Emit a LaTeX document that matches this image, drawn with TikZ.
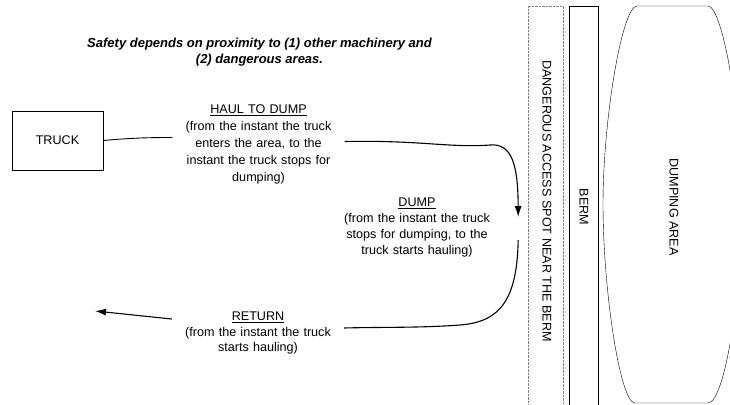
\documentclass[tikz,border=0pt]{standalone}
\usepackage{fontspec}
\setmainfont{Liberation Sans}
\usetikzlibrary{arrows.meta}

\tikzset{
  phase/.style={align=center, text width=152pt, inner xsep=10pt, inner ysep=0pt, font=\fontsize{12.6}{16.8}\selectfont},
  region/.style={rotate=-90, font=\fontsize{12.6}{14}\selectfont},
  flow/.style={line width=1.1pt, -{Latex[length=11pt,width=7pt]}}
}

\begin{document}
\begin{tikzpicture}[x=1pt,y=-1pt]
   \useasboundingbox (0,0) rectangle (730,404);
   \clip (0,0) rectangle (730,404);

   \node (title) at (259.5,52) [align=center, font=\fontsize{13}{16}\selectfont\bfseries\itshape]
     {Safety depends on proximity to (1) other machinery and\\(2) dangerous areas.};

   \node (truck) at (57.5,140.5) [draw, minimum width=91pt, minimum height=59pt, font=\fontsize{12.6}{14}\selectfont] {TRUCK};

   \node (haul) at (258.5,144.5) [phase]
     {\underline{HAUL TO DUMP}\\(from the instant the truck\\enters the area, to the\\instant the truck stops for\\dumping)};
   \node (dump) at (417,227.5) [phase, text width=202pt, inner xsep=0pt, font=\fontsize{12.6}{16}\selectfont]
     {\underline{DUMP}\\(from the instant the truck\\stops for dumping, to the\\truck starts hauling)};
   \node (return) at (258,333) [phase, font=\fontsize{12.6}{15.8}\selectfont]
     {\underline{RETURN}\\(from the instant the truck\\starts hauling)};
   \coordinate (out) at (95,311);

   % the three areas near the berm
   \draw[gray, densely dotted] (528,6) rectangle (563,412);
   \draw (569,6) rectangle (598,412);
   \draw (637,6) -- (708,6) .. controls (723,6) and (742,120) .. (742,204)
     .. controls (742,290) and (725,403) .. (708,403) -- (635,403)
     .. controls (620,403) and (603,290) .. (603,204)
     .. controls (603,120) and (622,6) .. (637,6) -- cycle;
   \node (danger) at (547,201) [region] {DANGEROUS ACCESS SPOT NEAR THE BERM};
   \node (berm) at (584,207) [region] {BERM};
   \node (area) at (674,207) [region] {DUMPING AREA};

   \draw[line width=0.9pt] (truck.east) to[out=5,in=180] ([yshift=7pt]haul.west);
   \draw[flow] ([yshift=3pt]haul.east) .. controls (420,140) and (450,148) .. (490,145)
     .. controls (512,143) and (518,165) .. ([yshift=10.5pt]dump.east);
   \draw[line width=1.1pt] ([yshift=-12.5pt]dump.east) .. controls (517,300) and (500,322) .. (460,325)
     .. controls (420,328) and (380,327) .. ([yshift=5pt]return.east);
   \draw[flow] ([yshift=14pt]return.west) -- (out);
\end{tikzpicture}
\end{document}
